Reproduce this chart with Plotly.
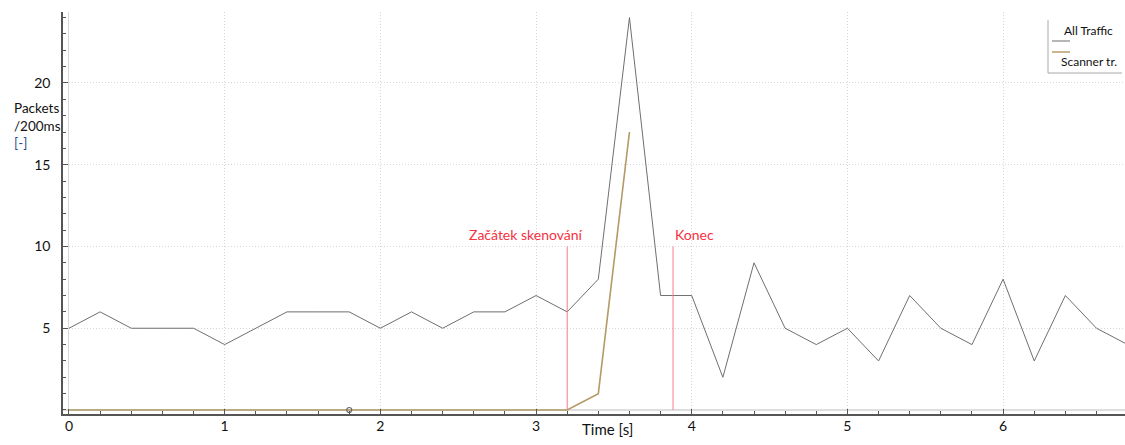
import plotly.graph_objects as go

# ---- data ----
time_all = [0.0, 0.2, 0.4, 0.6, 0.8, 1.0, 1.2, 1.4, 1.6, 1.8, 2.0, 2.2, 2.4, 2.6, 2.8,
            3.0, 3.2, 3.4, 3.6, 3.8, 4.0, 4.2, 4.4, 4.6, 4.8, 5.0, 5.2, 5.4, 5.6, 5.8,
            6.0, 6.2, 6.4, 6.6, 6.8]
all_traffic = [5, 6, 5, 5, 5, 4, 5, 6, 6, 6, 5, 6, 5, 6, 6,
               7, 6, 8, 24, 7, 7, 2, 9, 5, 4, 5, 3, 7, 5, 4,
               8, 3, 7, 5, 4]
time_scan = [0.0, 0.2, 0.4, 0.6, 0.8, 1.0, 1.2, 1.4, 1.6, 1.8, 2.0, 2.2, 2.4, 2.6, 2.8,
             3.0, 3.2, 3.4, 3.6]
scanner = [0, 0, 0, 0, 0, 0, 0, 0, 0, 0, 0, 0, 0, 0, 0, 0, 0, 1, 17]
series_names = ["All Traffic", "Scanner tr."]
cursor_point = (1.8, 0)
event_times = [3.2, 3.88]
event_labels = ["Začátek skenování", "Konec"]
event_height = 10
y_ticks = [5, 10, 15, 20]
x_ticks = [0, 1, 2, 3, 4, 5, 6]

FONT = "Lato"
GRAY = "#6f6f6f"
TAN = "#b39a66"
TAN_LEG = "#ad8f4e"
RED_LINE = "#ee7c8c"
RED_TEXT = "#f5313f"
GRID = "#d6d6d6"

W, H = 1125, 445
ML, MR, MT, MB = 63, 0, 12, 31
PW, PH = W - ML - MR, H - MT - MB


def px(xp):
    return (xp - ML) / PW


def py(yp):
    return (H - MB - yp) / PH


fig = go.Figure()
fig.add_trace(go.Scatter(x=time_all, y=all_traffic, mode="lines", name=series_names[0],
                         line=dict(color=GRAY, width=1), showlegend=False))
fig.add_trace(go.Scatter(x=time_scan, y=scanner, mode="lines", name=series_names[1],
                         line=dict(color=TAN, width=1.6), showlegend=False))
fig.add_trace(go.Scatter(x=[cursor_point[0]], y=[cursor_point[1]], mode="markers",
                         marker=dict(symbol="circle-open", size=5, color="#666",
                                     line=dict(width=1.2)), showlegend=False))

# event lines and labels
for i, (t, lab) in enumerate(zip(event_times, event_labels)):
    fig.add_shape(type="line", x0=t, x1=t, y0=0, y1=event_height, xref="x", yref="y",
                  line=dict(color=RED_LINE, width=1))
    fig.add_annotation(x=t, y=event_height, xref="x", yref="y", text=lab, showarrow=False,
                       xanchor="right" if i == 0 else "left",
                       xshift=18 if i == 0 else 0, yshift=12, yanchor="middle",
                       font=dict(family=FONT, size=14, color=RED_TEXT))

# axis titles
fig.add_annotation(x=px(12), y=py(125), xref="paper", yref="paper", xanchor="left",
                   align="left", showarrow=False, yanchor="middle",
                   text="Packets<br>/200ms<br><span style='color:#2b4f86'>[-]</span>",
                   font=dict(family=FONT, size=13.5, color="#111"))
fig.add_annotation(x=px(607), y=py(429), xref="paper", yref="paper",
                   yanchor="middle", showarrow=False, text="Time [s]",
                   font=dict(family=FONT, size=15, color="#111"))

# custom legend
fig.add_shape(type="line", xref="paper", yref="paper", x0=px(1048), x1=px(1048),
              y0=py(73), y1=py(20), line=dict(color="#a8a8a8", width=1))
fig.add_shape(type="line", xref="paper", yref="paper", x0=px(1048), x1=px(1122),
              y0=py(73), y1=py(73), line=dict(color="#a8a8a8", width=1))
fig.add_shape(type="line", xref="paper", yref="paper", x0=px(1052), x1=px(1070),
              y0=py(41), y1=py(41), line=dict(color=GRAY, width=1))
fig.add_shape(type="line", xref="paper", yref="paper", x0=px(1052), x1=px(1070),
              y0=py(52), y1=py(52), line=dict(color=TAN_LEG, width=1.3))
fig.add_annotation(x=px(1062), y=py(31), xref="paper", yref="paper",
                   xanchor="left", yanchor="middle", showarrow=False, text=series_names[0],
                   font=dict(family=FONT, size=12, color="#111"))
fig.add_annotation(x=px(1059), y=py(62), xref="paper", yref="paper",
                   xanchor="left", yanchor="middle", showarrow=False, text=series_names[1],
                   font=dict(family=FONT, size=12, color="#111"))

fig.update_layout(
    width=W, height=H,
    margin=dict(l=ML, r=MR, t=MT, b=MB, autoexpand=False),
    paper_bgcolor="white", plot_bgcolor="white",
    font=dict(family=FONT, size=14, color="#111"),
    showlegend=False,
)
fig.update_xaxes(
    range=[-0.0385, 6.783], tickmode="array", tickvals=x_ticks, automargin=False,
    ticks="inside", ticklen=5, tickcolor="#555", tickwidth=1,
    showline=True, linecolor="#555", linewidth=1.5,
    showgrid=True, gridcolor=GRID, griddash="1px,2px", gridwidth=1,
    zeroline=True, zerolinecolor="#d8d8d8", zerolinewidth=1,
    minor=dict(dtick=0.2, tick0=0, ticks="inside", ticklen=3, tickcolor="#555", showgrid=False),
    tickfont=dict(family=FONT, size=14, color="#111"), ticklabelstandoff=-2,
)
fig.update_yaxes(
    range=[-0.245, 24.34], tickmode="array", tickvals=y_ticks, automargin=False,
    ticks="inside", ticklen=5, tickcolor="#555", tickwidth=1,
    showline=True, linecolor="#555", linewidth=1.5,
    showgrid=True, gridcolor=GRID, griddash="1px,2px", gridwidth=1,
    zeroline=True, zerolinecolor="#dedede", zerolinewidth=2,
    minor=dict(dtick=1, tick0=0, ticks="inside", ticklen=3, tickcolor="#555", showgrid=False),
    tickfont=dict(family=FONT, size=14, color="#111"), ticklabelstandoff=8,
)

fig.write_html(
    "out.html",
    config={"displayModeBar": False},
    post_script="document.body.style.margin='0';document.body.style.overflow='hidden';",
)
